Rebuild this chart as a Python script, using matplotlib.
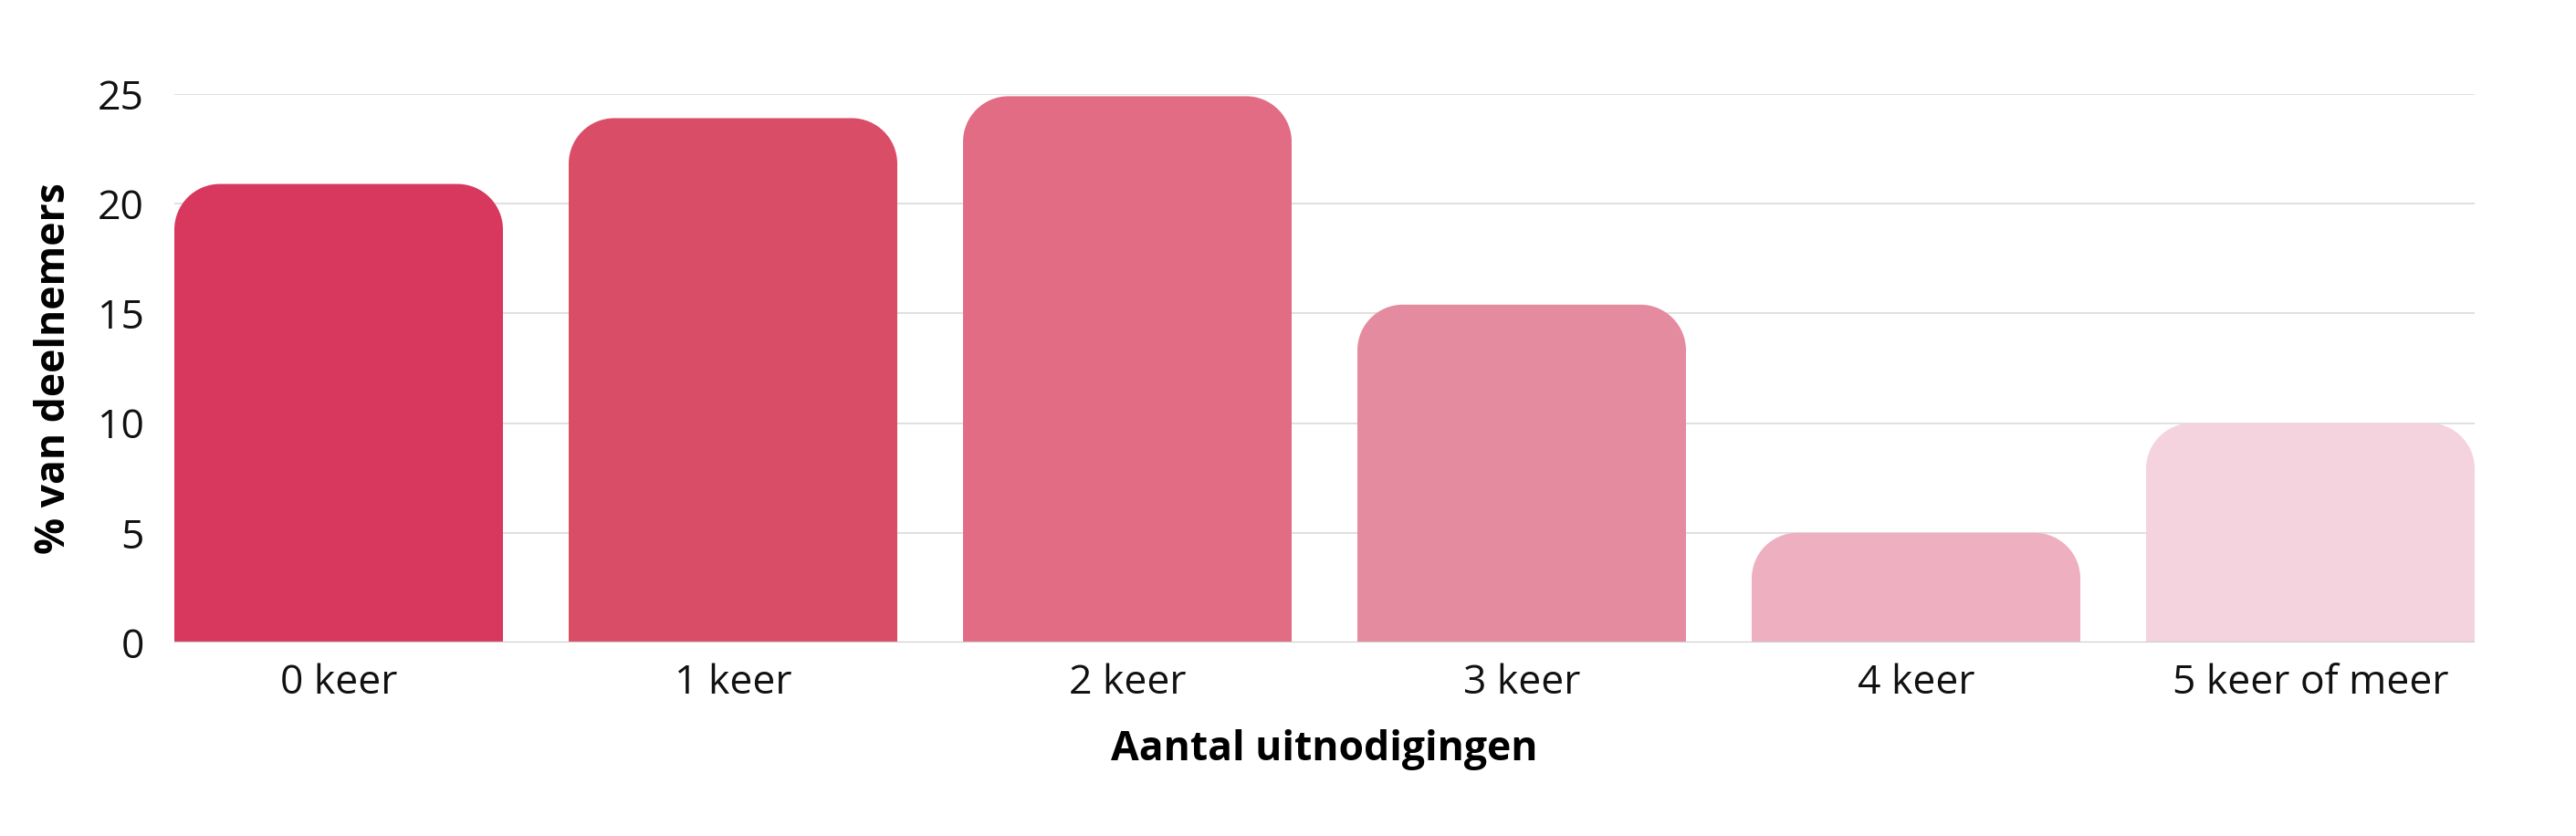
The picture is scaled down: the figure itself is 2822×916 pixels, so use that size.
import matplotlib
matplotlib.use("Agg")
import matplotlib.pyplot as plt
from matplotlib.path import Path
from matplotlib.patches import PathPatch

categories = ["0 keer", "1 keer", "2 keer", "3 keer", "4 keer", "5 keer of meer"]
values = [20.9, 23.9, 24.9, 15.4, 5.0, 10.0]
colors = ["#D8385D", "#DA4D66", "#E16C84", "#E58B9F", "#EEB0C1", "#F5D3DE"]
yticks = [0, 5, 10, 15, 20, 25]

plt.rcParams["font.family"] = ["Open Sans", "DejaVu Sans"]

W, H, DPI = 2822, 916, 100
fig = plt.figure(figsize=(W / DPI, H / DPI), dpi=DPI)
left, right, bottom, top = 191, 2711, 704, 103
ax = fig.add_axes([left / W, 1 - bottom / H, (right - left) / W, (bottom - top) / H])

bar_w = 0.8333
xlim = (-bar_w / 2, len(categories) - 1 + bar_w / 2)
ylim = (0, 25)
ax.set_xlim(xlim)
ax.set_ylim(ylim)

# corner radius in pixels -> data units on each axis
r_px = 50
rx = r_px * (xlim[1] - xlim[0]) / (right - left)
ry = r_px * (ylim[1] - ylim[0]) / (bottom - top)
k = 0.5523

for i, (v, c) in enumerate(zip(values, colors)):
    x0, x1 = i - bar_w / 2, i + bar_w / 2
    verts = [
        (x0, 0), (x0, v - ry),
        (x0, v - ry + k * ry), (x0 + rx - k * rx, v), (x0 + rx, v),
        (x1 - rx, v),
        (x1 - rx + k * rx, v), (x1, v - ry + k * ry), (x1, v - ry),
        (x1, 0), (x0, 0),
    ]
    codes = [Path.MOVETO, Path.LINETO,
             Path.CURVE4, Path.CURVE4, Path.CURVE4,
             Path.LINETO,
             Path.CURVE4, Path.CURVE4, Path.CURVE4,
             Path.LINETO, Path.CLOSEPOLY]
    ax.add_patch(PathPatch(Path(verts, codes), facecolor=c, edgecolor="none", zorder=2))

for t in yticks[1:]:
    ax.axhline(t, color="#E0E0E0", lw=1.4, zorder=1)
ax.axhline(0, color="#CCCCCC", lw=1.6, zorder=3)

for s in ax.spines.values():
    s.set_visible(False)

ax.set_xticks(range(len(categories)))
ax.set_xticklabels(categories)
ax.set_yticks(yticks)
ax.tick_params(axis="both", length=0, labelsize=32, colors="#111111")
ax.tick_params(axis="x", pad=16)
ax.tick_params(axis="y", pad=24)

ax.set_xlabel("Aantal uitnodigingen", fontsize=32, fontweight="bold", labelpad=20)
ax.set_ylabel("% van deelnemers", fontsize=32, fontweight="bold", labelpad=18)

fig.savefig("out.png", dpi=DPI, facecolor="white")
